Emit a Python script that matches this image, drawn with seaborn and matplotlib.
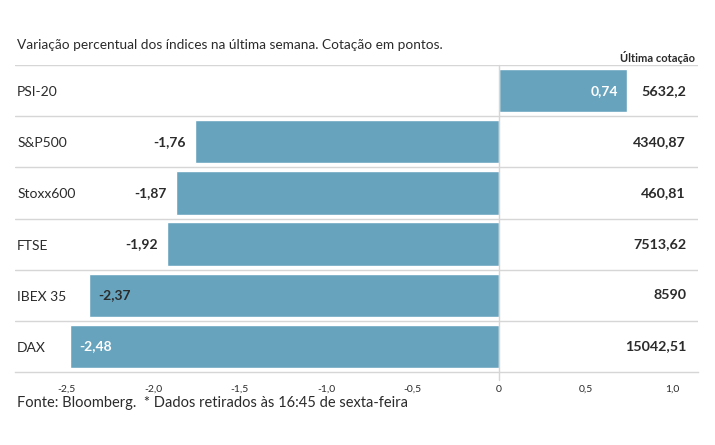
import matplotlib
matplotlib.use("Agg")
import matplotlib.pyplot as plt
import seaborn as sns
import pandas as pd

# data
indices = ["PSI-20", "S&P500", "Stoxx600", "FTSE", "IBEX 35", "DAX"]
variacao = [0.74, -1.76, -1.87, -1.92, -2.37, -2.48]
cotacao = ["5632,2", "4340,87", "460,81", "7513,62", "8590", "15042,51"]
ticks = [-2.5, -2.0, -1.5, -1.0, -0.5, 0, 0.5, 1.0]
tick_labels = ["-2,5", "-2,0", "-1,5", "-1,0", "-0,5", "0", "0,5", "1,0"]

df = pd.DataFrame({"indice": indices, "var": variacao})

sns.set_style("white")
plt.rcParams['font.family'] = ['Lato', 'DejaVu Sans']

bar_color = "#68a3be"
text_color = "#2b2b2b"
grid_color = "#d6d6d6"

fig = plt.figure(figsize=(7.15, 4.45), dpi=100)
ax = fig.add_axes([15 / 715, (445 - 372) / 445, 683 / 715, (372 - 65) / 445])

sns.barplot(
    data=df,
    x="var",
    y="indice",
    orient="h",
    color=bar_color,
    saturation=1,
    width=0.85,
    ax=ax
)

ax.set_xlim(-2.798, 1.150)
ax.set_ylim(5.5, -0.5)
ax.set_xlabel("")
ax.set_ylabel("")
ax.set_yticks([])

# row separators
for y in [i - 0.5 for i in range(len(indices))]:
    ax.axhline(y, color=grid_color, lw=1, zorder=0)
ax.axvline(0, ymin=-0.025, ymax=1, color=grid_color, lw=1, zorder=3, clip_on=False)

for s in ["top", "left", "right"]:
    ax.spines[s].set_visible(False)
ax.spines["bottom"].set_color(grid_color)
ax.spines["bottom"].set_linewidth(1)

ax.set_xticks(ticks)
ax.set_xticklabels(tick_labels)
ax.tick_params(axis="x", direction="in", length=6, width=1, color=grid_color,
               labelsize=7.5, labelcolor=text_color, pad=9)

off = 9 / 173
for i, (name, v, q) in enumerate(zip(indices, variacao, cotacao)):
    lab = f"{v:.2f}".replace(".", ",")
    ax.text(0.003, i + 0.03, name, transform=ax.get_yaxis_transform(), ha="left",
            va="center", fontsize=10, color=text_color)
    if v > 0:
        ax.text(v - off, i, lab, ha="right", va="center", fontsize=10,
                fontweight="bold", color="white")
    elif v > -2.2:
        ax.text(v - off, i, lab, ha="right", va="center", fontsize=10,
                fontweight="bold", color=text_color)
    else:
        col = "white" if v < -2.4 else text_color
        ax.text(v + off, i, lab, ha="left", va="center", fontsize=10,
                fontweight="bold", color=col)
    ax.text((686 - 15) / 683, i, q, transform=ax.get_yaxis_transform(),
            ha="right", va="center", fontsize=10.3, fontweight="bold",
            color=text_color)

fig.text(17 / 715, 1 - 45 / 445, "Variação percentual dos índices na última semana. Cotação em pontos.",
         ha="left", va="center", fontsize=9.8, color=text_color)
fig.text(695 / 715, 1 - 58 / 445, "Última cotação", ha="right", va="center",
         fontsize=8, fontweight="bold", color=text_color)
fig.text(17 / 715, 1 - 403 / 445, "Fonte: Bloomberg.  * Dados retirados às 16:45 de sexta-feira",
         ha="left", va="center", fontsize=10.5, color=text_color)

fig.savefig("out.png", dpi=100)
